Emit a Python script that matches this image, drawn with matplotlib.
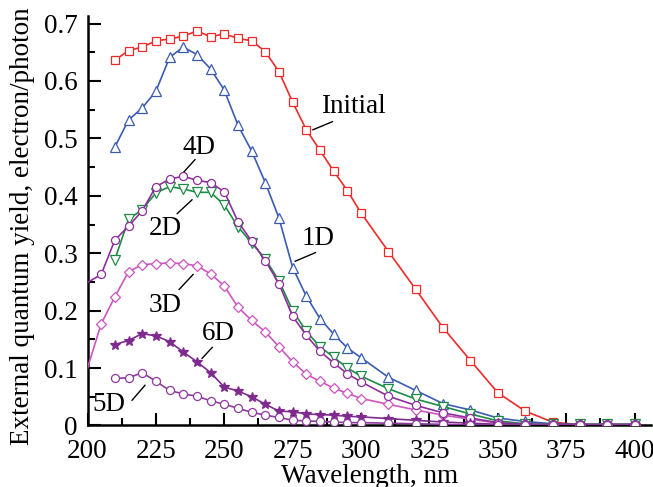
import matplotlib
matplotlib.use("Agg")
import matplotlib.pyplot as plt
from matplotlib.ticker import MultipleLocator

plt.rcParams['font.family'] = ['Liberation Serif', 'DejaVu Serif']

wl_a = [210, 215, 220, 225, 230, 235, 240, 245, 250, 255, 260, 265, 270, 275, 280, 285, 290, 295, 300,
        310, 320, 330, 340, 350, 360, 370, 380, 390, 400]
wl_b = [200, 205] + wl_a

initial = [0.636, 0.653, 0.659, 0.670, 0.673, 0.678, 0.687, 0.677, 0.682, 0.674, 0.670, 0.651, 0.616,
           0.563, 0.515, 0.479, 0.443, 0.409, 0.370, 0.303, 0.237, 0.170, 0.113, 0.057, 0.025, 0.006,
           0.001, 0.001, 0.001]
d1 = [0.485, 0.532, 0.553, 0.582, 0.641, 0.659, 0.646, 0.621, 0.584, 0.523, 0.478, 0.423, 0.361,
      0.275, 0.225, 0.186, 0.159, 0.135, 0.118, 0.084, 0.061, 0.038, 0.027, 0.013, 0.007, 0.003,
      0.002, 0.002, 0.002]
d2 = [0.289, 0.359, 0.376, 0.405, 0.416, 0.412, 0.406, 0.406, 0.384, 0.346, 0.318, 0.290, 0.252,
      0.200, 0.164, 0.137, 0.119, 0.100, 0.086, 0.064, 0.046, 0.033, 0.020, 0.008, 0.003, 0.002,
      0.002, 0.002, 0.002]
d4 = [0.249, 0.263, 0.323, 0.347, 0.374, 0.416, 0.429, 0.434, 0.427, 0.423, 0.407, 0.355, 0.321,
      0.287, 0.247, 0.190, 0.157, 0.129, 0.109, 0.090, 0.076, 0.051, 0.035, 0.022, 0.013, 0.005,
      0.002, 0.002, 0.002, 0.002, 0.002]
d3 = [0.100, 0.177, 0.224, 0.268, 0.280, 0.282, 0.283, 0.282, 0.278, 0.264, 0.243, 0.206, 0.183,
      0.163, 0.137, 0.111, 0.089, 0.077, 0.065, 0.056, 0.047, 0.037, 0.027, 0.018, 0.011, 0.004,
      0.002, 0.001, 0.001, 0.001, 0.001]
d6 = [0.141, 0.148, 0.160, 0.156, 0.146, 0.128, 0.111, 0.092, 0.067, 0.060, 0.050, 0.037, 0.025,
      0.024, 0.020, 0.019, 0.018, 0.016, 0.015, 0.012, 0.009, 0.006, 0.004, 0.002, 0.001, 0.001,
      0.001, 0.001, 0.001]
d5 = [0.082, 0.083, 0.092, 0.077, 0.061, 0.055, 0.051, 0.043, 0.037, 0.030, 0.023, 0.018, 0.014,
      0.009, 0.008, 0.007, 0.006, 0.005, 0.005, 0.004, 0.003, 0.002, 0.001, 0.001, 0.001, 0.001,
      0.001, 0.001, 0.001]

series_labels = ["Initial", "1D", "2D", "3D", "4D", "5D", "6D"]

fig = plt.figure(figsize=(6.53, 4.87), dpi=100)
ax = fig.add_axes([0.134, 0.1263, 0.863, 0.8407])

lw = 1.2
ms = 5.8
mew = 0.9
ax.plot(wl_a, initial, '-s', color='#EE2A2A', lw=lw, ms=ms, mfc='white', mew=mew, zorder=2)
ax.plot(wl_a, d1, '-^', color='#3A5BB0', lw=lw, ms=ms + 0.7, mfc='white', mew=mew, zorder=3)
ax.plot(wl_a, d2, '-v', color='#1E8B45', lw=lw, ms=ms + 0.7, mfc='white', mew=mew, zorder=4)
ax.plot(wl_b, d3, '-D', color='#CC55C0', lw=lw, ms=ms - 0.6, mfc='white', mew=mew, zorder=5,
        markevery=slice(1, None))
ax.plot(wl_b, d4, '-o', color='#8E2E9C', lw=lw, ms=ms, mfc='white', mew=mew, zorder=6,
        markevery=slice(1, None))
ax.plot(wl_a, d6, '-*', color='#7F2A8F', lw=lw, ms=ms + 1.5, mew=mew, zorder=7)
ax.plot(wl_a, d5, '-o', color='#8F3A9F', lw=lw, ms=ms, mfc='white', mew=mew, zorder=8)

ax.set_xlim(200, 406)
ax.set_ylim(0, 0.713)
ax.set_xticks([200, 225, 250, 275, 300, 325, 350, 375, 400])
ax.xaxis.set_minor_locator(MultipleLocator(12.5))
ax.set_yticks([0, 0.1, 0.2, 0.3, 0.4, 0.5, 0.6, 0.7])
ax.set_yticklabels(['0', '0.1', '0.2', '0.3', '0.4', '0.5', '0.6', '0.7'])
ax.yaxis.set_minor_locator(MultipleLocator(0.05))
for s in ['top', 'right']:
    ax.spines[s].set_visible(False)
for s in ['left', 'bottom']:
    ax.spines[s].set_linewidth(1.8)
ax.tick_params(which='major', direction='in', length=9, width=1.5, labelsize=19.5)
ax.tick_params(which='minor', direction='in', length=5, width=1.5)
ax.tick_params(axis='x', which='major', pad=10)
ax.tick_params(axis='y', which='major', pad=7)
ax.set_xlabel('Wavelength, nm', fontsize=19.5, labelpad=0)
ax.set_ylabel('External quantum yield, electron/photon', fontsize=19.5)
ax.yaxis.set_label_coords(-0.094, 0.487)

annots = [
    ("Initial", 297.2, 0.555, 282.4, 0.515, 289.5, 0.529),
    ("1D", 284.4, 0.326, 275.9, 0.286, 283.3, 0.301),
    ("4D", 240.8, 0.484, 235.3, 0.442, 239.3, 0.463),
    ("2D", 228.4, 0.343, 232.8, 0.369, 238.2, 0.393),
    ("3D", 228.4, 0.209, 233.5, 0.237, 238.6, 0.263),
    ("6D", 247.8, 0.161, 241.9, 0.117, 245.6, 0.136),
    ("5D", 207.9, 0.036, 216.3, 0.044, 221.0, 0.070),
]
for txt, tx, ty, x0, y0, x1, y1 in annots:
    ax.text(tx, ty, txt, fontsize=19.5, ha='center', va='center', zorder=10)
    ax.plot([x0, x1], [y0, y1], color='black', lw=1.0, zorder=10)

fig.savefig('out.png', dpi=100)
